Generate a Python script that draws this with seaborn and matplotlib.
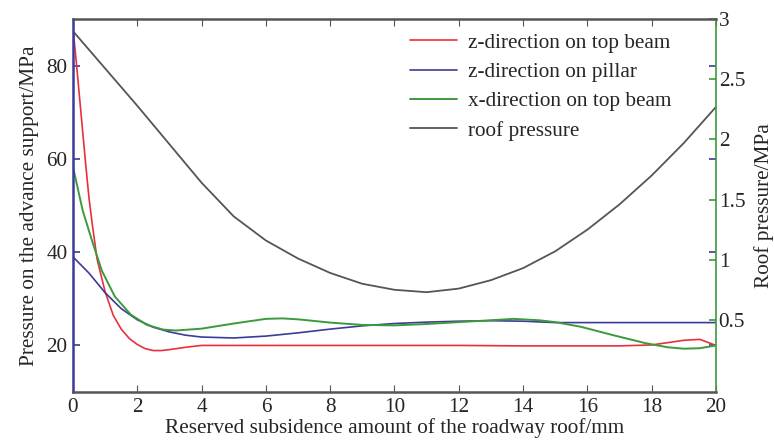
import pandas as pd
import seaborn as sns
import matplotlib.pyplot as plt

# values
x_red = [0, 0.1, 0.2, 0.3, 0.4, 0.5, 0.6, 0.75, 1.0, 1.25, 1.5, 1.75, 2.0, 2.25, 2.5, 2.75, 3.0, 3.5, 4.0,
         5, 6, 8, 10, 12, 14, 16, 17, 18, 18.5, 19, 19.5, 20]
z_top_beam = [88, 81, 73.5, 66, 58.5, 51.5, 46, 38.5, 31.5, 26.5, 23.5, 21.5, 20.2, 19.3, 18.9, 18.9, 19.1, 19.6, 20.0,
              20.0, 20.0, 20.0, 20.0, 20.0, 19.9, 19.9, 19.9, 20.1, 20.6, 21.1, 21.3, 20.0]

x_blue = [0, 0.5, 1.0, 1.5, 2.0, 2.5, 3.0, 3.5, 4.0, 5, 6, 7, 8, 9, 10, 11, 12, 13, 14, 15, 16, 18, 20]
z_pillar = [39.0, 35.5, 31.3, 27.9, 25.5, 23.9, 22.9, 22.2, 21.8, 21.6, 22.0, 22.7, 23.5, 24.2, 24.7, 25.0,
            25.2, 25.3, 25.2, 24.9, 24.9, 24.9, 24.9]

x_green = [0, 0.3, 0.6, 0.9, 1.3, 1.8, 2.3, 2.8, 3.2, 4, 5, 6, 6.5, 7, 8, 9, 10, 11, 12, 13, 13.7, 14.5,
           15, 15.8, 16.8, 17.8, 18.5, 19, 19.5, 20]
x_top_beam = [58.3, 49, 42.3, 36, 30.5, 26.6, 24.4, 23.4, 23.2, 23.6, 24.7, 25.7, 25.8, 25.6, 24.9, 24.4, 24.3,
              24.6, 25.0, 25.4, 25.7, 25.4, 25.0, 24.0, 22.2, 20.5, 19.6, 19.3, 19.4, 20.0]

x_roof = list(range(0, 21))
roof_pressure = [2.90, 2.59, 2.28, 1.96, 1.64, 1.36, 1.16, 1.01, 0.89, 0.80, 0.75, 0.73, 0.76, 0.83, 0.93,
                 1.07, 1.25, 1.46, 1.70, 1.97, 2.27]

x_ticks = list(range(0, 21, 2))
left_ticks = [20, 40, 60, 80]
right_ticks = [0.5, 1, 1.5, 2, 2.5, 3]
right_labels = ['0.5', '1', '1.5', '2', '2.5', '3']

RED = '#e8303c'
BLUE = '#3b3b98'
GREEN = '#3c9a3c'
GRAY = '#555555'

sns.set_style('white')
plt.rcParams['font.family'] = ['Liberation Serif', 'DejaVu Serif']
plt.rcParams['font.size'] = 15.3

fig = plt.figure(figsize=(7.74, 4.45), dpi=100)
ax = fig.add_axes([0.0943, 0.119, 0.8307, 0.838])
ax2 = ax.twinx()

sns.lineplot(x=x_red, y=z_top_beam, ax=ax, color=RED, linewidth=1.2, label='z-direction on top beam')
sns.lineplot(x=x_blue, y=z_pillar, ax=ax, color=BLUE, linewidth=1.2, label='z-direction on pillar')
sns.lineplot(x=x_green, y=x_top_beam, ax=ax, color=GREEN, linewidth=1.4, label='x-direction on top beam')
sns.lineplot(x=x_roof, y=roof_pressure, ax=ax2, color=GRAY, linewidth=1.3, label='roof pressure')

ax.set_xlim(0, 20)
ax.set_ylim(10, 90)
ax2.set_ylim(-0.1, 3)

ax.set_xticks(x_ticks)
ax.set_yticks(left_ticks)
ax2.set_yticks(right_ticks)
ax2.set_yticklabels(right_labels)

ax.set_xlabel('Reserved subsidence amount of the roadway roof/mm', labelpad=1)
ax.set_ylabel('Pressure on the advance support/MPa', labelpad=5)
ax2.set_ylabel('Roof pressure/MPa', labelpad=6)

# MATLAB-like ticks: inward and mirrored
ax.tick_params(axis='x', direction='in', top=True, bottom=True, length=5, color=GRAY, pad=4)
ax.tick_params(axis='y', direction='in', left=True, right=True, length=5, color=BLUE, width=1.2, pad=4)
ax2.tick_params(axis='y', direction='in', right=True, length=5, color=GREEN, width=1.2, pad=2)

for name in ['top', 'bottom']:
    ax2.spines[name].set_color(GRAY)
    ax2.spines[name].set_linewidth(1.8)
ax2.spines['left'].set_color(BLUE)
ax2.spines['left'].set_linewidth(1.8)
ax2.spines['right'].set_color(GREEN)
ax2.spines['right'].set_linewidth(1.2)
for s in ax.spines.values():
    s.set_visible(False)

h1, l1 = ax.get_legend_handles_labels()
h2, l2 = ax2.get_legend_handles_labels()
ax.get_legend().remove()
ax2.get_legend().remove()
ax2.legend(h1 + h2, l1 + l2, loc='upper right', bbox_to_anchor=(0.96, 1.015), frameon=False,
           handlelength=2.2, handletextpad=0.5, labelspacing=0.45, fontsize=15.3)

plt.savefig('out.png', dpi=100)
